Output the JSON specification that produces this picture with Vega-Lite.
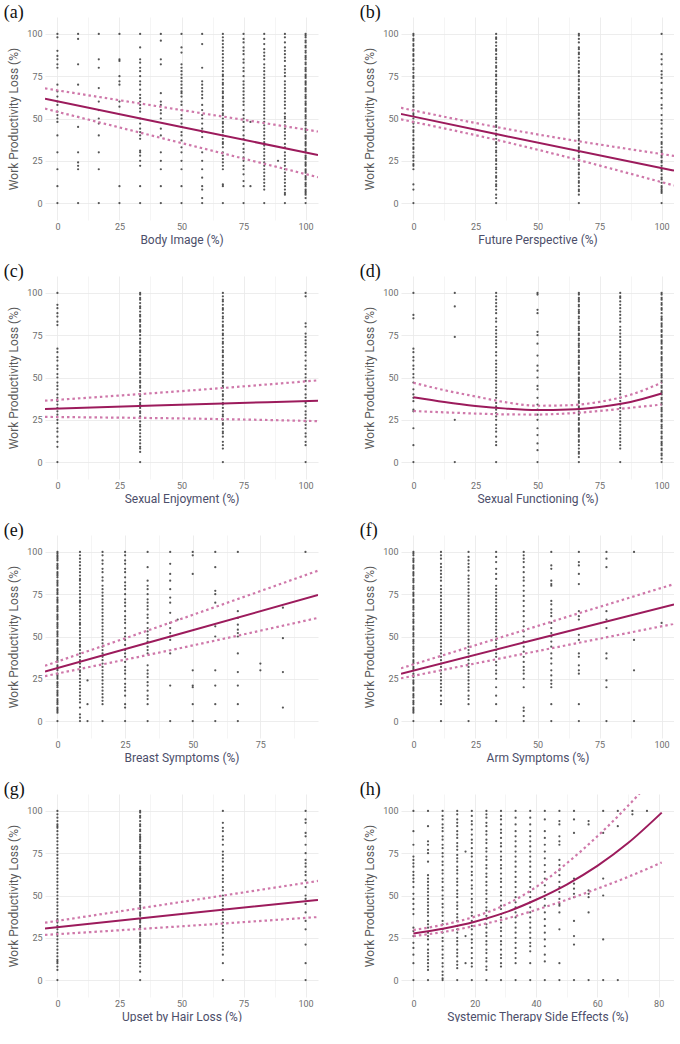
{
  "$schema": "https://vega.github.io/schema/vega-lite/v6.json",
  "padding": {"left": 3, "top": 4, "right": 0, "bottom": 0},
  "columns": 2,
  "spacing": {"row": 18, "column": 41},
  "config": {
    "view": {"stroke": null},
    "font": "Roboto",
    "axis": {"domain": false, "ticks": false, "labelFlush": false, "gridColor": {"condition": {"test": "datum.value % 25 === 0", "value": "#e9e9e9"}, "value": "#f3f3f3"}, "gridWidth": 0.8, "labelColor": "#6e6e6e", "labelFontSize": 9, "labelFont": "Roboto", "titleFont": "Roboto", "titleFontWeight": "normal", "titleFontSize": 12},
    "axisX": {"labelPadding": 2, "titlePadding": 3, "titleColor": "#4c4e6a"},
    "axisY": {"labelPadding": 3, "titlePadding": 6, "titleColor": "#5a5a5a"},
    "title": {"font": "Liberation Serif", "fontSize": 18, "fontWeight": "normal", "anchor": "start", "frame": "bounds", "offset": -5, "color": "#111", "dx": -4}
  },
  "datasets": {
    "pts": [
      {"p": "a", "x": 0, "ys": [100, 98, 90, 87, 85, 82, 80, 70, 66, 63, 60, 58, 54, 52, 50, 48, 40, 30, 20, 10, 0]},
      {"p": "a", "x": 8.33, "ys": [100, 97, 82, 70, 51, 45, 30, 24, 22, 20, 0]},
      {"p": "a", "x": 16.67, "ys": [100, 85, 80, 68, 60, 55, 50, 47, 40, 30, 20, 0]},
      {"p": "a", "x": 25, "ys": [100, 85, 84, 75, 72, 70, 60, 57, 10, 0]},
      {"p": "a", "x": 33.33, "ys": [100, 92, 85, 83, 80, 78, 75, 72, 70, 67, 64, 62, 60, 58, 56, 54, 50, 47, 44, 42, 40, 38, 31, 30, 28, 25, 22, 10, 0]},
      {"p": "a", "x": 41.67, "ys": [100, 96, 85, 82, 65, 60, 58, 55, 53, 50, 44, 40, 30, 25, 20, 10, 0]},
      {"p": "a", "x": 50, "ys": [100, 92, 89, 82, 80, 78, 76, 74, 72, 70, 68, 66, 65, 63, 60, 58, 55, 52, 50, 47, 45, 42, 40, 37, 33, 30, 25, 20, 10, 0]},
      {"p": "a", "x": 58.33, "ys": [100, 94, 80, 72, 70, 68, 66, 64, 62, 58, 55, 52, 50, 47, 44, 42, 39, 30, 25, 20, 15, 10, 8, 3, 0]},
      {"p": "a", "x": 66.67, "ys": [100, 98, 96, 94, 92, 90, 88, 86, 84, 82, 80, 78, 76, 75, 73, 71, 70, 68, 66, 65, 63, 62, 60, 58, 57, 55, 53, 52, 50, 48, 47, 45, 43, 42, 40, 38, 36, 35, 33, 30, 28, 26, 24, 22, 20, 11, 10, 0]},
      {"p": "a", "x": 75, "ys": [100, 97, 95, 92, 90, 88, 85, 83, 80, 78, 75, 72, 70, 68, 66, 64, 62, 60, 58, 55, 52, 50, 48, 45, 43, 40, 38, 35, 32, 30, 27, 25, 22, 20, 17, 13, 10, 0]},
      {"p": "a", "x": 77.78, "ys": [48, 10]},
      {"p": "a", "x": 83.33, "ys": [100, 97, 94, 91, 89, 87, 85, 82, 80, 78, 76, 74, 72, 70, 68, 66, 64, 62, 60, 58, 56, 54, 52, 50, 48, 46, 44, 42, 40, 38, 36, 34, 32, 30, 28, 26, 24, 22, 20, 18, 16, 14, 12, 10, 8, 0]},
      {"p": "a", "x": 88.89, "ys": [25]},
      {"p": "a", "x": 91.67, "ys": [100, 98, 95, 92, 90, 88, 86, 84, 81, 79, 77, 75, 72, 70, 68, 66, 64, 62, 60, 58, 56, 53, 51, 50, 48, 46, 44, 42, 40, 38, 35, 33, 30, 28, 26, 24, 22, 20, 18, 16, 14, 12, 10, 8, 6, 5, 0]},
      {"p": "a", "x": 100, "ys": [100, 99, 98, 96, 95, 93, 92, 90, 89, 87, 86, 85, 83, 82, 80, 79, 78, 76, 75, 74, 72, 71, 70, 68, 67, 66, 64, 63, 62, 60, 59, 58, 56, 55, 54, 52, 51, 50, 48, 47, 46, 44, 43, 42, 40, 39, 38, 36, 35, 34, 32, 31, 30, 28, 27, 26, 24, 23, 22, 20, 19, 18, 16, 15, 14, 12, 11, 10, 8, 7, 6, 5, 3, 0]},

      {"p": "b", "x": 0, "ys": [100, 99, 97, 96, 94, 93, 91, 90, 88, 87, 85, 84, 82, 80, 79, 77, 75, 74, 72, 70, 69, 67, 65, 63, 62, 60, 58, 57, 55, 53, 52, 50, 48, 47, 45, 43, 42, 40, 38, 37, 35, 33, 32, 30, 28, 27, 25, 23, 22, 20, 11, 8, 0]},
      {"p": "b", "x": 33.33, "ys": [100, 98, 97, 95, 93, 91, 90, 88, 86, 85, 83, 81, 80, 78, 76, 75, 73, 71, 70, 68, 66, 65, 63, 61, 60, 58, 56, 55, 53, 51, 50, 48, 46, 45, 43, 41, 40, 38, 36, 35, 33, 31, 30, 28, 26, 25, 23, 21, 20, 18, 16, 15, 13, 11, 10, 8, 5, 3, 0]},
      {"p": "b", "x": 66.67, "ys": [100, 99, 97, 95, 92, 91, 89, 88, 86, 84, 82, 80, 78, 77, 75, 73, 72, 70, 68, 67, 65, 63, 62, 60, 58, 57, 55, 53, 52, 50, 48, 47, 45, 43, 42, 40, 38, 37, 35, 33, 32, 30, 28, 27, 25, 23, 22, 20, 18, 17, 15, 13, 12, 10, 8, 7, 5, 0]},
      {"p": "b", "x": 100, "ys": [100, 88, 85, 82, 78, 76, 74, 71, 67, 65, 62, 58, 56, 52, 49, 47, 44, 41, 39, 36, 35, 33, 31, 30, 28, 27, 25, 24, 22, 20, 19, 17, 15, 14, 12, 10, 9, 8, 7, 6, 0]},

      {"p": "c", "x": 0, "ys": [100, 93, 91, 88, 86, 83, 81, 67, 65, 62, 60, 57, 55, 52, 50, 47, 45, 43, 40, 38, 36, 34, 32, 30, 28, 25, 23, 20, 18, 15, 12, 9, 0]},
      {"p": "c", "x": 33.33, "ys": [100, 99, 97, 96, 94, 92, 91, 89, 87, 86, 84, 83, 81, 80, 78, 77, 75, 73, 71, 70, 68, 66, 65, 63, 61, 60, 58, 57, 55, 53, 52, 50, 48, 47, 45, 44, 42, 40, 39, 37, 35, 34, 32, 30, 29, 27, 26, 24, 22, 21, 19, 17, 15, 13, 11, 9, 8, 6, 0]},
      {"p": "c", "x": 66.67, "ys": [100, 98, 96, 95, 93, 91, 90, 88, 86, 85, 83, 81, 80, 78, 76, 75, 73, 71, 70, 68, 66, 65, 63, 62, 60, 58, 57, 55, 53, 52, 50, 48, 47, 45, 44, 42, 40, 39, 37, 35, 34, 32, 30, 28, 27, 25, 23, 22, 20, 18, 17, 15, 12, 10, 8, 0]},
      {"p": "c", "x": 100, "ys": [100, 98, 82, 80, 76, 74, 72, 70, 68, 65, 63, 60, 57, 55, 52, 50, 48, 45, 43, 40, 38, 35, 33, 30, 28, 26, 24, 22, 20, 17, 15, 12, 10, 0]},

      {"p": "d", "x": 0, "ys": [100, 87, 85, 67, 65, 62, 60, 57, 55, 52, 50, 47, 43, 40, 38, 36, 31, 30, 20, 10, 0]},
      {"p": "d", "x": 16.67, "ys": [100, 92, 74, 25, 0]},
      {"p": "d", "x": 33.33, "ys": [100, 98, 96, 94, 92, 90, 88, 85, 83, 80, 78, 76, 74, 72, 70, 68, 65, 63, 60, 58, 56, 54, 52, 50, 48, 46, 44, 42, 40, 38, 35, 33, 31, 29, 27, 25, 22, 20, 18, 15, 12, 10, 0]},
      {"p": "d", "x": 50, "ys": [100, 99, 90, 88, 77, 75, 70, 63, 57, 54, 50, 45, 43, 38, 34, 31, 28, 25, 20, 16, 11, 7, 0]},
      {"p": "d", "x": 66.67, "ys": [100, 99, 97, 96, 95, 93, 92, 90, 89, 88, 86, 85, 83, 82, 80, 79, 78, 76, 75, 73, 72, 70, 69, 68, 66, 65, 63, 62, 60, 59, 58, 56, 55, 53, 52, 50, 49, 48, 46, 45, 43, 42, 40, 39, 38, 36, 35, 33, 32, 30, 29, 28, 26, 25, 23, 22, 20, 19, 18, 16, 15, 13, 12, 10, 8, 6, 5, 3, 0]},
      {"p": "d", "x": 83.33, "ys": [100, 98, 97, 95, 93, 91, 89, 87, 85, 83, 80, 78, 76, 74, 72, 70, 68, 65, 63, 61, 59, 57, 55, 52, 50, 48, 46, 44, 42, 40, 38, 36, 34, 32, 30, 28, 26, 24, 22, 20, 18, 16, 14, 12, 10, 8, 0]},
      {"p": "d", "x": 100, "ys": [100, 99, 97, 96, 94, 93, 91, 90, 88, 86, 85, 84, 82, 81, 80, 78, 77, 75, 74, 72, 71, 70, 68, 67, 65, 64, 62, 61, 60, 58, 57, 55, 54, 52, 51, 50, 48, 47, 45, 44, 42, 41, 40, 38, 37, 35, 34, 32, 31, 30, 28, 27, 25, 24, 22, 21, 20, 18, 17, 15, 14, 12, 11, 10, 8, 7, 5, 4, 2, 0]},

      {"p": "e", "x": 0, "ys": [100, 99, 98, 97, 96, 95, 93, 92, 91, 90, 88, 87, 86, 85, 83, 82, 81, 80, 78, 77, 76, 75, 73, 72, 71, 70, 68, 67, 66, 65, 63, 62, 61, 60, 58, 57, 56, 55, 53, 52, 51, 50, 48, 47, 46, 45, 43, 42, 41, 40, 38, 37, 36, 35, 33, 32, 31, 30, 28, 27, 26, 25, 23, 22, 21, 20, 18, 17, 16, 15, 13, 12, 11, 10, 8, 7, 6, 5, 0]},
      {"p": "e", "x": 8.33, "ys": [100, 98, 96, 94, 92, 90, 88, 86, 84, 83, 81, 79, 77, 75, 73, 71, 70, 68, 66, 64, 62, 60, 58, 57, 55, 53, 51, 49, 47, 45, 44, 42, 40, 38, 36, 34, 32, 30, 29, 27, 25, 23, 21, 19, 17, 15, 13, 11, 8, 4, 2, 0]},
      {"p": "e", "x": 11.11, "ys": [24, 10, 0]},
      {"p": "e", "x": 16.67, "ys": [100, 98, 95, 93, 90, 88, 85, 83, 80, 78, 76, 74, 72, 70, 68, 66, 64, 62, 60, 58, 56, 54, 52, 50, 48, 46, 44, 42, 40, 38, 36, 34, 32, 30, 28, 26, 24, 22, 20, 18, 16, 14, 12, 10, 0]},
      {"p": "e", "x": 25, "ys": [100, 98, 95, 93, 90, 88, 85, 82, 80, 78, 75, 72, 70, 68, 65, 62, 60, 58, 55, 52, 50, 48, 45, 42, 40, 38, 35, 32, 30, 28, 25, 22, 20, 18, 15, 10, 8, 0]},
      {"p": "e", "x": 33.33, "ys": [100, 91, 83, 80, 78, 75, 72, 70, 68, 66, 63, 61, 58, 55, 53, 51, 49, 47, 44, 42, 40, 33, 30, 28, 26, 23, 21, 18, 15, 13, 10, 0]},
      {"p": "e", "x": 41.67, "ys": [100, 93, 87, 83, 78, 73, 70, 64, 58, 55, 52, 50, 48, 40, 21, 0]},
      {"p": "e", "x": 44.44, "ys": [60]},
      {"p": "e", "x": 50, "ys": [100, 98, 87, 30, 21, 20, 10, 0]},
      {"p": "e", "x": 58.33, "ys": [100, 91, 77, 75, 70, 56, 50, 30, 21, 10, 0]},
      {"p": "e", "x": 66.67, "ys": [100, 65, 61, 57, 54, 52, 50, 40, 29, 21, 10, 0]},
      {"p": "e", "x": 75, "ys": [34, 30]},
      {"p": "e", "x": 83.33, "ys": [67, 49, 29, 8]},
      {"p": "e", "x": 91.67, "ys": [100]},

      {"p": "f", "x": 0, "ys": [100, 99, 98, 96, 95, 94, 92, 91, 90, 88, 87, 86, 84, 83, 82, 80, 79, 78, 76, 75, 74, 72, 71, 70, 68, 67, 66, 64, 63, 62, 60, 59, 58, 56, 55, 54, 52, 51, 50, 48, 47, 46, 44, 43, 42, 40, 39, 38, 36, 35, 34, 32, 31, 30, 28, 27, 26, 24, 23, 22, 20, 19, 18, 16, 15, 14, 12, 11, 10, 8, 7, 6, 5, 0]},
      {"p": "f", "x": 11.11, "ys": [100, 98, 96, 93, 91, 89, 87, 85, 83, 80, 78, 76, 74, 72, 70, 68, 66, 64, 62, 60, 58, 56, 54, 52, 50, 48, 46, 44, 42, 40, 38, 36, 34, 32, 30, 28, 26, 24, 22, 20, 18, 15, 12, 10, 0]},
      {"p": "f", "x": 22.22, "ys": [100, 97, 95, 93, 91, 89, 86, 84, 82, 80, 78, 76, 74, 72, 70, 68, 66, 64, 62, 60, 58, 56, 54, 52, 50, 48, 46, 44, 42, 40, 38, 36, 34, 32, 30, 28, 26, 24, 22, 20, 18, 15, 13, 10, 0]},
      {"p": "f", "x": 33.33, "ys": [100, 97, 94, 90, 87, 84, 80, 78, 76, 74, 72, 70, 68, 66, 64, 62, 60, 58, 56, 54, 52, 50, 48, 46, 44, 42, 40, 38, 35, 33, 30, 28, 25, 20, 15, 10, 0]},
      {"p": "f", "x": 44.44, "ys": [100, 98, 96, 94, 91, 88, 85, 83, 80, 77, 74, 71, 68, 65, 62, 59, 56, 53, 50, 47, 44, 41, 38, 35, 32, 30, 28, 25, 20, 8, 6, 3, 0]},
      {"p": "f", "x": 55.56, "ys": [100, 92, 90, 83, 81, 80, 71, 69, 66, 64, 62, 58, 55, 52, 50, 47, 44, 40, 37, 34, 30, 27, 24, 22, 20, 10, 0]},
      {"p": "f", "x": 66.67, "ys": [100, 94, 92, 87, 81, 65, 62, 60, 51, 48, 40, 38, 33, 30, 28, 10, 0]},
      {"p": "f", "x": 77.78, "ys": [100, 96, 91, 65, 60, 55, 40, 37, 24, 20, 0]},
      {"p": "f", "x": 88.89, "ys": [100, 48, 30, 0]},
      {"p": "f", "x": 100, "ys": [58]},

      {"p": "g", "x": 0, "ys": [100, 98, 96, 94, 92, 91, 90, 88, 86, 84, 82, 80, 78, 76, 74, 72, 70, 68, 66, 64, 62, 60, 58, 56, 54, 52, 50, 48, 46, 44, 42, 40, 38, 36, 35, 34, 32, 30, 28, 26, 24, 22, 20, 18, 16, 14, 12, 11, 10, 8, 6, 0]},
      {"p": "g", "x": 33.33, "ys": [100, 99, 97, 96, 94, 92, 91, 89, 88, 86, 85, 84, 83, 82, 80, 79, 78, 76, 75, 73, 72, 70, 69, 67, 66, 65, 63, 62, 60, 59, 58, 56, 55, 54, 52, 51, 50, 48, 47, 46, 44, 43, 42, 40, 39, 38, 36, 35, 34, 32, 31, 30, 28, 27, 26, 24, 23, 22, 20, 19, 17, 15, 14, 12, 10, 8, 5, 0]},
      {"p": "g", "x": 66.67, "ys": [100, 93, 90, 88, 85, 83, 80, 76, 74, 72, 70, 67, 65, 62, 60, 58, 55, 53, 50, 48, 46, 44, 42, 40, 38, 36, 34, 32, 30, 28, 25, 22, 20, 18, 15, 10, 0]},
      {"p": "g", "x": 100, "ys": [100, 95, 93, 87, 85, 80, 75, 71, 69, 67, 64, 62, 59, 55, 50, 48, 45, 40, 35, 30, 21, 10, 0]},

      {"p": "h", "x": 0, "ys": [100, 88, 80, 73, 71, 69, 67, 64, 62, 60, 58, 55, 51, 48, 45, 42, 39, 31, 29, 26, 22, 19, 15, 10, 0]},
      {"p": "h", "x": 4.76, "ys": [100, 91, 82, 80, 77, 75, 70, 62, 60, 58, 56, 54, 52, 50, 48, 46, 44, 42, 40, 38, 35, 33, 31, 28, 26, 24, 21, 18, 16, 14, 12, 10, 8, 6, 0]},
      {"p": "h", "x": 9.52, "ys": [100, 97, 95, 92, 90, 88, 85, 83, 80, 78, 75, 73, 70, 68, 65, 63, 60, 58, 55, 53, 50, 48, 45, 43, 40, 38, 35, 33, 30, 28, 25, 23, 20, 18, 15, 13, 10, 8, 5, 3, 1, 0]},
      {"p": "h", "x": 14.29, "ys": [100, 98, 95, 93, 91, 88, 86, 84, 81, 79, 77, 74, 72, 70, 67, 65, 63, 60, 58, 56, 53, 51, 49, 46, 44, 42, 39, 37, 35, 32, 30, 28, 25, 23, 21, 18, 16, 14, 11, 9, 7, 0]},
      {"p": "h", "x": 17, "ys": [76, 26, 10]},
      {"p": "h", "x": 19.05, "ys": [100, 97, 94, 92, 89, 86, 83, 81, 78, 75, 73, 70, 67, 64, 62, 59, 56, 54, 51, 48, 46, 43, 40, 38, 35, 32, 30, 27, 24, 22, 19, 16, 13, 10, 8, 0]},
      {"p": "h", "x": 23.81, "ys": [100, 98, 96, 93, 91, 88, 86, 83, 81, 78, 76, 73, 71, 68, 66, 63, 61, 58, 56, 53, 51, 48, 46, 43, 41, 38, 36, 33, 31, 28, 26, 23, 21, 18, 16, 13, 11, 8, 6, 0]},
      {"p": "h", "x": 28.57, "ys": [100, 97, 95, 92, 89, 87, 84, 81, 79, 76, 73, 71, 68, 66, 63, 60, 58, 55, 52, 50, 47, 44, 42, 39, 37, 34, 31, 29, 26, 23, 21, 18, 15, 13, 10, 8, 0]},
      {"p": "h", "x": 33.33, "ys": [100, 96, 92, 88, 85, 82, 79, 76, 73, 70, 67, 64, 61, 58, 55, 52, 49, 46, 43, 40, 37, 34, 31, 28, 25, 22, 19, 16, 13, 10, 0]},
      {"p": "h", "x": 38.1, "ys": [100, 96, 92, 88, 85, 82, 79, 76, 73, 70, 67, 64, 61, 58, 55, 52, 49, 46, 43, 40, 37, 34, 31, 28, 25, 22, 20, 17, 10, 0]},
      {"p": "h", "x": 42.86, "ys": [100, 95, 88, 84, 80, 76, 72, 68, 64, 60, 56, 52, 48, 44, 40, 36, 32, 28, 24, 20, 15, 11, 0]},
      {"p": "h", "x": 47.62, "ys": [100, 94, 92, 85, 82, 80, 71, 68, 65, 62, 58, 55, 52, 48, 45, 44, 40, 30, 10, 0]},
      {"p": "h", "x": 52.38, "ys": [100, 95, 87, 60, 57, 54, 51, 49, 35, 26, 21, 0]},
      {"p": "h", "x": 57.14, "ys": [94, 92, 53, 51, 49, 40, 0]},
      {"p": "h", "x": 61.9, "ys": [100, 87, 60, 50, 24, 0]},
      {"p": "h", "x": 66.67, "ys": [100, 91, 0]},
      {"p": "h", "x": 71.43, "ys": [100, 98]},
      {"p": "h", "x": 76.19, "ys": [100]}
    ],
    "fits": [
      {"p": "a", "x": -5, "fit": 61.7, "lo": 55.8, "hi": 67.8},
      {"p": "a", "x": 50, "fit": 45, "lo": 35.5, "hi": 55},
      {"p": "a", "x": 105, "fit": 28.4, "lo": 15.3, "hi": 42.3},
      {"p": "b", "x": -5, "fit": 52.7, "lo": 49.5, "hi": 56.3},
      {"p": "b", "x": 33.33, "fit": 40.8, "lo": 37.4, "hi": 45},
      {"p": "b", "x": 105, "fit": 19.2, "lo": 10.4, "hi": 27.9},
      {"p": "c", "x": -5, "fit": 31.4, "lo": 26.7, "hi": 36.3},
      {"p": "c", "x": 66.67, "fit": 34.6, "lo": 25.4, "hi": 43.8},
      {"p": "c", "x": 105, "fit": 36.3, "lo": 24.2, "hi": 48.3},
      {"p": "d", "x": 0, "fit": 38.3, "lo": 30.2, "hi": 46.9},
      {"p": "d", "x": 12.5, "fit": 35.5, "lo": 29.4, "hi": 42.5},
      {"p": "d", "x": 25, "fit": 33.2, "lo": 28.7, "hi": 38.8},
      {"p": "d", "x": 37.5, "fit": 31.6, "lo": 28.2, "hi": 35.3},
      {"p": "d", "x": 50, "fit": 30.8, "lo": 28.1, "hi": 33.3},
      {"p": "d", "x": 62.5, "fit": 31.1, "lo": 28.8, "hi": 33.6},
      {"p": "d", "x": 75, "fit": 32.6, "lo": 30.2, "hi": 35.6},
      {"p": "d", "x": 87.5, "fit": 35.5, "lo": 32.1, "hi": 39.8},
      {"p": "d", "x": 100, "fit": 40.5, "lo": 34, "hi": 46.9},
      {"p": "e", "x": -4.6, "fit": 29.3, "lo": 26.6, "hi": 32.7},
      {"p": "e", "x": 45, "fit": 51.5, "lo": 43, "hi": 60},
      {"p": "e", "x": 96.3, "fit": 74.5, "lo": 61, "hi": 88.9},
      {"p": "f", "x": -5, "fit": 28, "lo": 25.3, "hi": 31.2},
      {"p": "f", "x": 50, "fit": 48.5, "lo": 41.4, "hi": 56.2},
      {"p": "f", "x": 105, "fit": 69, "lo": 57.5, "hi": 81},
      {"p": "g", "x": -5, "fit": 30.5, "lo": 26.7, "hi": 33.9},
      {"p": "g", "x": 50, "fit": 39, "lo": 31.8, "hi": 46.2},
      {"p": "g", "x": 105, "fit": 47.4, "lo": 37.3, "hi": 58.6},
      {"p": "h", "x": 0, "fit": 27.5, "lo": 26, "hi": 29.6},
      {"p": "h", "x": 10, "fit": 30.5, "lo": 28.5, "hi": 32.8},
      {"p": "h", "x": 20, "fit": 34.5, "lo": 32, "hi": 37.5},
      {"p": "h", "x": 30, "fit": 40, "lo": 36.2, "hi": 44.5},
      {"p": "h", "x": 40, "fit": 47.5, "lo": 41.5, "hi": 55},
      {"p": "h", "x": 50, "fit": 56.5, "lo": 47.5, "hi": 69},
      {"p": "h", "x": 60, "fit": 67.5, "lo": 54, "hi": 85},
      {"p": "h", "x": 70, "fit": 81, "lo": 61, "hi": 103},
      {"p": "h", "x": 81, "fit": 99, "lo": 69.5, "hi": 125}
    ]
  },
  "concat": [
    {
      "title": "(a)", "width": 273, "height": 203,
      "encoding": {"x": {"field": "x", "type": "quantitative", "scale": {"domain": [-5, 105]}, "title": "Body Image (%)", "axis": {"values": [0, 12.5, 25, 37.5, 50, 62.5, 75, 87.5, 100], "labelExpr": "datum.value % 25 === 0 ? datum.label : ''"}}},
      "layer": [
        {"data": {"name": "pts"}, "transform": [{"filter": "datum.p === 'a'"}, {"flatten": ["ys"], "as": ["y"]}], "mark": {"type": "circle", "size": 5, "color": "#2b2b2b", "opacity": 0.8}, "encoding": {"y": {"field": "y", "type": "quantitative", "scale": {"domain": [-5, 105]}, "title": "Work Productivity Loss (%)", "axis": {"values": [0, 12.5, 25, 37.5, 50, 62.5, 75, 87.5, 100], "labelExpr": "datum.value % 25 === 0 ? datum.label : ''"}}}},
        {"data": {"name": "fits"}, "transform": [{"filter": "datum.p === 'a'"}, {"fold": ["lo", "hi"]}], "mark": {"type": "line", "color": "#cf78aa", "strokeDash": [2.5, 3], "strokeWidth": 2.2, "clip": true, "interpolate": "monotone"}, "encoding": {"y": {"field": "value", "type": "quantitative", "title": "Work Productivity Loss (%)"}, "detail": {"field": "key"}}},
        {"data": {"name": "fits"}, "transform": [{"filter": "datum.p === 'a'"}], "mark": {"type": "line", "color": "#9c1b5c", "strokeWidth": 2, "clip": true, "interpolate": "monotone"}, "encoding": {"y": {"field": "fit", "type": "quantitative", "title": "Work Productivity Loss (%)"}}}
      ]
    },
    {
      "title": "(b)", "width": 273, "height": 203,
      "encoding": {"x": {"field": "x", "type": "quantitative", "scale": {"domain": [-5, 105]}, "title": "Future Perspective (%)", "axis": {"values": [0, 12.5, 25, 37.5, 50, 62.5, 75, 87.5, 100], "labelExpr": "datum.value % 25 === 0 ? datum.label : ''"}}},
      "layer": [
        {"data": {"name": "pts"}, "transform": [{"filter": "datum.p === 'b'"}, {"flatten": ["ys"], "as": ["y"]}], "mark": {"type": "circle", "size": 5, "color": "#2b2b2b", "opacity": 0.8}, "encoding": {"y": {"field": "y", "type": "quantitative", "scale": {"domain": [-5, 105]}, "title": "Work Productivity Loss (%)", "axis": {"values": [0, 12.5, 25, 37.5, 50, 62.5, 75, 87.5, 100], "labelExpr": "datum.value % 25 === 0 ? datum.label : ''"}}}},
        {"data": {"name": "fits"}, "transform": [{"filter": "datum.p === 'b'"}, {"fold": ["lo", "hi"]}], "mark": {"type": "line", "color": "#cf78aa", "strokeDash": [2.5, 3], "strokeWidth": 2.2, "clip": true, "interpolate": "monotone"}, "encoding": {"y": {"field": "value", "type": "quantitative", "title": "Work Productivity Loss (%)"}, "detail": {"field": "key"}}},
        {"data": {"name": "fits"}, "transform": [{"filter": "datum.p === 'b'"}], "mark": {"type": "line", "color": "#9c1b5c", "strokeWidth": 2, "clip": true, "interpolate": "monotone"}, "encoding": {"y": {"field": "fit", "type": "quantitative", "title": "Work Productivity Loss (%)"}}}
      ]
    },
    {
      "title": "(c)", "width": 273, "height": 203,
      "encoding": {"x": {"field": "x", "type": "quantitative", "scale": {"domain": [-5, 105]}, "title": "Sexual Enjoyment (%)", "axis": {"values": [0, 12.5, 25, 37.5, 50, 62.5, 75, 87.5, 100], "labelExpr": "datum.value % 25 === 0 ? datum.label : ''"}}},
      "layer": [
        {"data": {"name": "pts"}, "transform": [{"filter": "datum.p === 'c'"}, {"flatten": ["ys"], "as": ["y"]}], "mark": {"type": "circle", "size": 5, "color": "#2b2b2b", "opacity": 0.8}, "encoding": {"y": {"field": "y", "type": "quantitative", "scale": {"domain": [-5, 105]}, "title": "Work Productivity Loss (%)", "axis": {"values": [0, 12.5, 25, 37.5, 50, 62.5, 75, 87.5, 100], "labelExpr": "datum.value % 25 === 0 ? datum.label : ''"}}}},
        {"data": {"name": "fits"}, "transform": [{"filter": "datum.p === 'c'"}, {"fold": ["lo", "hi"]}], "mark": {"type": "line", "color": "#cf78aa", "strokeDash": [2.5, 3], "strokeWidth": 2.2, "clip": true, "interpolate": "monotone"}, "encoding": {"y": {"field": "value", "type": "quantitative", "title": "Work Productivity Loss (%)"}, "detail": {"field": "key"}}},
        {"data": {"name": "fits"}, "transform": [{"filter": "datum.p === 'c'"}], "mark": {"type": "line", "color": "#9c1b5c", "strokeWidth": 2, "clip": true, "interpolate": "monotone"}, "encoding": {"y": {"field": "fit", "type": "quantitative", "title": "Work Productivity Loss (%)"}}}
      ]
    },
    {
      "title": "(d)", "width": 273, "height": 203,
      "encoding": {"x": {"field": "x", "type": "quantitative", "scale": {"domain": [-5, 105]}, "title": "Sexual Functioning (%)", "axis": {"values": [0, 12.5, 25, 37.5, 50, 62.5, 75, 87.5, 100], "labelExpr": "datum.value % 25 === 0 ? datum.label : ''"}}},
      "layer": [
        {"data": {"name": "pts"}, "transform": [{"filter": "datum.p === 'd'"}, {"flatten": ["ys"], "as": ["y"]}], "mark": {"type": "circle", "size": 5, "color": "#2b2b2b", "opacity": 0.8}, "encoding": {"y": {"field": "y", "type": "quantitative", "scale": {"domain": [-5, 105]}, "title": "Work Productivity Loss (%)", "axis": {"values": [0, 12.5, 25, 37.5, 50, 62.5, 75, 87.5, 100], "labelExpr": "datum.value % 25 === 0 ? datum.label : ''"}}}},
        {"data": {"name": "fits"}, "transform": [{"filter": "datum.p === 'd'"}, {"fold": ["lo", "hi"]}], "mark": {"type": "line", "color": "#cf78aa", "strokeDash": [2.5, 3], "strokeWidth": 2.2, "clip": true, "interpolate": "monotone"}, "encoding": {"y": {"field": "value", "type": "quantitative", "title": "Work Productivity Loss (%)"}, "detail": {"field": "key"}}},
        {"data": {"name": "fits"}, "transform": [{"filter": "datum.p === 'd'"}], "mark": {"type": "line", "color": "#9c1b5c", "strokeWidth": 2, "clip": true, "interpolate": "monotone"}, "encoding": {"y": {"field": "fit", "type": "quantitative", "title": "Work Productivity Loss (%)"}}}
      ]
    },
    {
      "title": "(e)", "width": 273, "height": 203,
      "encoding": {"x": {"field": "x", "type": "quantitative", "scale": {"domain": [-4.6, 96.3]}, "title": "Breast Symptoms (%)", "axis": {"values": [0, 12.5, 25, 37.5, 50, 62.5, 75, 87.5], "labelExpr": "datum.value % 25 === 0 ? datum.label : ''"}}},
      "layer": [
        {"data": {"name": "pts"}, "transform": [{"filter": "datum.p === 'e'"}, {"flatten": ["ys"], "as": ["y"]}], "mark": {"type": "circle", "size": 5, "color": "#2b2b2b", "opacity": 0.8}, "encoding": {"y": {"field": "y", "type": "quantitative", "scale": {"domain": [-5, 105]}, "title": "Work Productivity Loss (%)", "axis": {"values": [0, 12.5, 25, 37.5, 50, 62.5, 75, 87.5, 100], "labelExpr": "datum.value % 25 === 0 ? datum.label : ''"}}}},
        {"data": {"name": "fits"}, "transform": [{"filter": "datum.p === 'e'"}, {"fold": ["lo", "hi"]}], "mark": {"type": "line", "color": "#cf78aa", "strokeDash": [2.5, 3], "strokeWidth": 2.2, "clip": true, "interpolate": "monotone"}, "encoding": {"y": {"field": "value", "type": "quantitative", "title": "Work Productivity Loss (%)"}, "detail": {"field": "key"}}},
        {"data": {"name": "fits"}, "transform": [{"filter": "datum.p === 'e'"}], "mark": {"type": "line", "color": "#9c1b5c", "strokeWidth": 2, "clip": true, "interpolate": "monotone"}, "encoding": {"y": {"field": "fit", "type": "quantitative", "title": "Work Productivity Loss (%)"}}}
      ]
    },
    {
      "title": "(f)", "width": 273, "height": 203,
      "encoding": {"x": {"field": "x", "type": "quantitative", "scale": {"domain": [-5, 105]}, "title": "Arm Symptoms (%)", "axis": {"values": [0, 12.5, 25, 37.5, 50, 62.5, 75, 87.5, 100], "labelExpr": "datum.value % 25 === 0 ? datum.label : ''"}}},
      "layer": [
        {"data": {"name": "pts"}, "transform": [{"filter": "datum.p === 'f'"}, {"flatten": ["ys"], "as": ["y"]}], "mark": {"type": "circle", "size": 5, "color": "#2b2b2b", "opacity": 0.8}, "encoding": {"y": {"field": "y", "type": "quantitative", "scale": {"domain": [-5, 105]}, "title": "Work Productivity Loss (%)", "axis": {"values": [0, 12.5, 25, 37.5, 50, 62.5, 75, 87.5, 100], "labelExpr": "datum.value % 25 === 0 ? datum.label : ''"}}}},
        {"data": {"name": "fits"}, "transform": [{"filter": "datum.p === 'f'"}, {"fold": ["lo", "hi"]}], "mark": {"type": "line", "color": "#cf78aa", "strokeDash": [2.5, 3], "strokeWidth": 2.2, "clip": true, "interpolate": "monotone"}, "encoding": {"y": {"field": "value", "type": "quantitative", "title": "Work Productivity Loss (%)"}, "detail": {"field": "key"}}},
        {"data": {"name": "fits"}, "transform": [{"filter": "datum.p === 'f'"}], "mark": {"type": "line", "color": "#9c1b5c", "strokeWidth": 2, "clip": true, "interpolate": "monotone"}, "encoding": {"y": {"field": "fit", "type": "quantitative", "title": "Work Productivity Loss (%)"}}}
      ]
    },
    {
      "title": "(g)", "width": 273, "height": 203,
      "encoding": {"x": {"field": "x", "type": "quantitative", "scale": {"domain": [-5, 105]}, "title": "Upset by Hair Loss (%)", "axis": {"values": [0, 12.5, 25, 37.5, 50, 62.5, 75, 87.5, 100], "labelExpr": "datum.value % 25 === 0 ? datum.label : ''"}}},
      "layer": [
        {"data": {"name": "pts"}, "transform": [{"filter": "datum.p === 'g'"}, {"flatten": ["ys"], "as": ["y"]}], "mark": {"type": "circle", "size": 5, "color": "#2b2b2b", "opacity": 0.8}, "encoding": {"y": {"field": "y", "type": "quantitative", "scale": {"domain": [-5, 105]}, "title": "Work Productivity Loss (%)", "axis": {"values": [0, 12.5, 25, 37.5, 50, 62.5, 75, 87.5, 100], "labelExpr": "datum.value % 25 === 0 ? datum.label : ''"}}}},
        {"data": {"name": "fits"}, "transform": [{"filter": "datum.p === 'g'"}, {"fold": ["lo", "hi"]}], "mark": {"type": "line", "color": "#cf78aa", "strokeDash": [2.5, 3], "strokeWidth": 2.2, "clip": true, "interpolate": "monotone"}, "encoding": {"y": {"field": "value", "type": "quantitative", "title": "Work Productivity Loss (%)"}, "detail": {"field": "key"}}},
        {"data": {"name": "fits"}, "transform": [{"filter": "datum.p === 'g'"}], "mark": {"type": "line", "color": "#9c1b5c", "strokeWidth": 2, "clip": true, "interpolate": "monotone"}, "encoding": {"y": {"field": "fit", "type": "quantitative", "title": "Work Productivity Loss (%)"}}}
      ]
    },
    {
      "title": "(h)", "width": 273, "height": 203,
      "encoding": {"x": {"field": "x", "type": "quantitative", "scale": {"domain": [-4.05, 85]}, "title": "Systemic Therapy Side Effects (%)", "axis": {"values": [0, 10, 20, 30, 40, 50, 60, 70, 80], "labelExpr": "datum.value % 20 === 0 ? datum.label : ''", "gridColor": {"condition": {"test": "datum.value % 20 === 0", "value": "#e9e9e9"}, "value": "#f3f3f3"}}}},
      "layer": [
        {"data": {"name": "pts"}, "transform": [{"filter": "datum.p === 'h'"}, {"flatten": ["ys"], "as": ["y"]}], "mark": {"type": "circle", "size": 5, "color": "#2b2b2b", "opacity": 0.8}, "encoding": {"y": {"field": "y", "type": "quantitative", "scale": {"domain": [-5, 105]}, "title": "Work Productivity Loss (%)", "axis": {"values": [0, 12.5, 25, 37.5, 50, 62.5, 75, 87.5, 100], "labelExpr": "datum.value % 25 === 0 ? datum.label : ''"}}}},
        {"data": {"name": "fits"}, "transform": [{"filter": "datum.p === 'h'"}, {"fold": ["lo", "hi"]}], "mark": {"type": "line", "color": "#cf78aa", "strokeDash": [2.5, 3], "strokeWidth": 2.2, "clip": true, "interpolate": "monotone"}, "encoding": {"y": {"field": "value", "type": "quantitative", "title": "Work Productivity Loss (%)"}, "detail": {"field": "key"}}},
        {"data": {"name": "fits"}, "transform": [{"filter": "datum.p === 'h'"}], "mark": {"type": "line", "color": "#9c1b5c", "strokeWidth": 2, "clip": true, "interpolate": "monotone"}, "encoding": {"y": {"field": "fit", "type": "quantitative", "title": "Work Productivity Loss (%)"}}}
      ]
    }
  ]
}
